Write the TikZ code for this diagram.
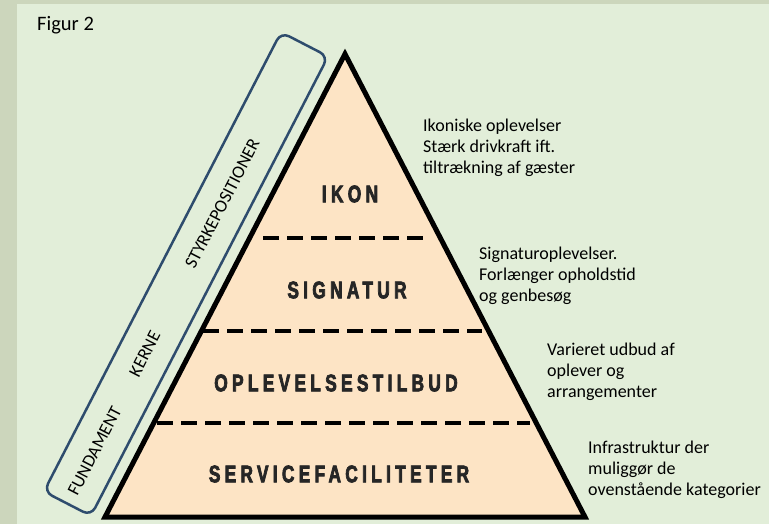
\documentclass[tikz,border=0pt]{standalone}
\usepackage{fontspec}
\setmainfont{Carlito}
\newfontfamily\layerfont[FakeStretch=0.72,FakeBold=3,LetterSpace=18]{Liberation Sans}
\usetikzlibrary{positioning, calc}

\definecolor{stripgreen}{HTML}{CCD6BC}
\definecolor{paleground}{HTML}{E2EED9}
\definecolor{peach}{HTML}{FDE4C5}
\definecolor{bandblue}{HTML}{2E4C6D}

\begin{document}
\begin{tikzpicture}[x=1pt, y=-1pt]

    \tikzstyle{layer} = [font=\layerfont\bfseries\fontsize{24}{24}\selectfont, text=black!85, anchor=center, inner sep=0pt]
    \tikzstyle{note} = [font=\fontsize{18}{21}\selectfont, align=left, anchor=north west, inner sep=0pt]
    \tikzstyle{level} = [line width=4pt, dash pattern=on 16pt off 8pt]
    \tikzstyle{bandtext} = [font=\fontsize{18}{18}\selectfont, rotate=62.7, inner sep=0pt]

    % background
    \fill[stripgreen] (0,0) rectangle (769,524);
    \fill[paleground] (17,4) rectangle (769,524);
    \useasboundingbox (0,0) rectangle (769,524);

    \node (figur) [anchor=base west, inner sep=0pt, font=\fontsize{20.5}{20.5}\selectfont] at (37,31) {Figur 2};

    % pyramid
    \coordinate (apex) at (345,54);
    \coordinate (baseL) at (105,517);
    \coordinate (baseR) at (585,517);
    \draw[line width=5pt, line join=miter, fill=peach] (apex) -- (baseL) -- (baseR) -- cycle;

    \draw[level] (263,238) -- (425,238);
    \draw[level] (203,331) -- (482,331);
    \draw[level] (157,423) -- (530,423);

    \node (ikon) [layer] at (350,194) {IKON};
    \node (signatur) [layer] at (347,290) {SIGNATUR};
    \node (oplevelse) [layer] at (336,383) {OPLEVELSESTILBUD};
    \node (service) [layer] at (339,474) {SERVICEFACILITETER};

    % band along the left side
    \coordinate (bandmid) at (186,274);
    \begin{scope}[shift={(bandmid)}, rotate=62.7]
        \draw[bandblue, line width=2.5pt, rounded corners=9pt] (-258.5pt,-26.5pt) rectangle (258.5pt,26.5pt);
        \coordinate (bandlow) at (-258.5pt,0pt);
        \coordinate (bandhigh) at (258.5pt,0pt);
    \end{scope}
    \node (fundament) [bandtext] at ($(bandlow)!0.115!(bandhigh)$) {FUNDAMENT};
    \node (kerne) [bandtext] at ($(bandlow)!0.326!(bandhigh)$) {KERNE};
    \node (styrke) [bandtext] at ($(bandlow)!0.653!(bandhigh)$) {STYRKEPOSITIONER};

    % notes
    \node (ikonnote) [note] at (423,119) {Ikoniske oplevelser\\Stærk drivkraft ift.\\tiltrækning af gæster};
    \node (signote) [note] at (479,247) {Signaturoplevelser.\\Forlænger opholdstid\\og genbesøg};
    \node (oplnote) [note] at (547,343) {Varieret udbud af\\oplever og\\arrangementer};
    \node (servnote) [note] at (588,441) {Infrastruktur der\\muliggør de\\ovenstående kategorier};
\end{tikzpicture}
\end{document}
